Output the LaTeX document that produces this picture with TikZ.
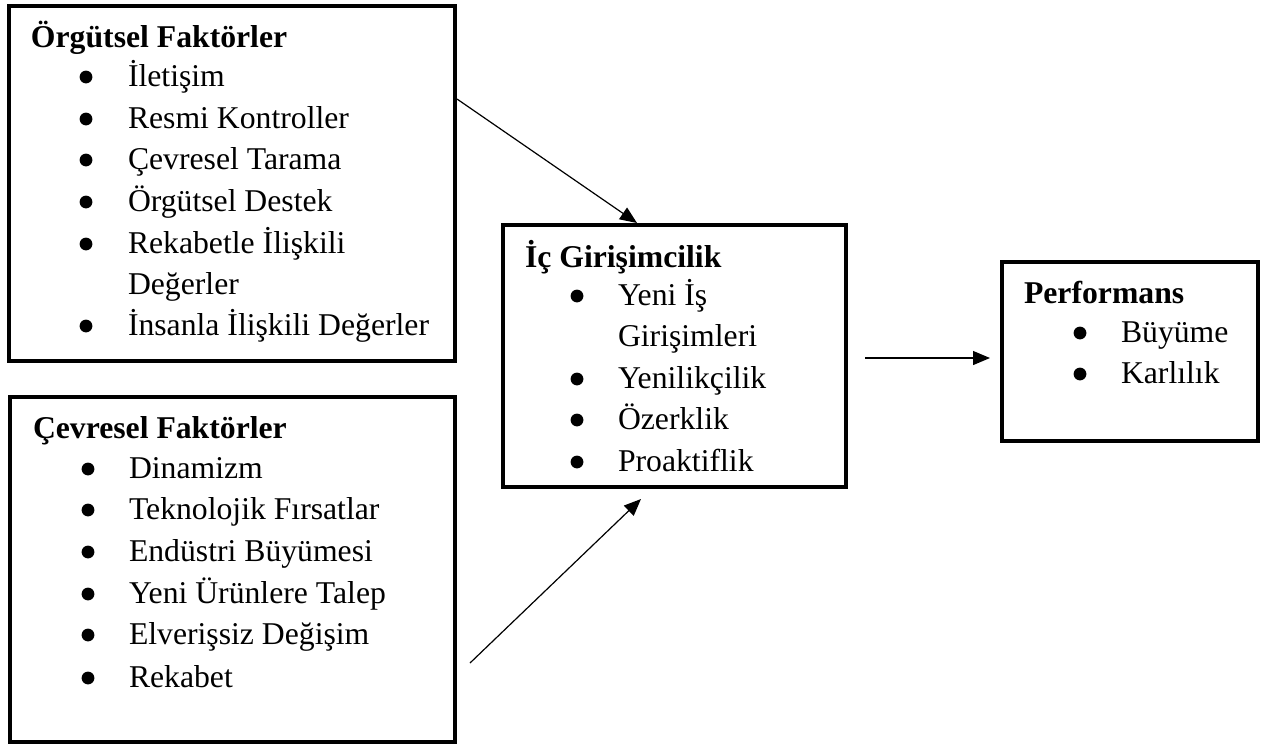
\documentclass[tikz,border=0pt]{standalone}
\usepackage{fontspec}
\setmainfont{Liberation Serif}
\usetikzlibrary{arrows.meta,calc}
\begin{document}
\begin{tikzpicture}[x=0.5pt,y=-0.5pt,
  box/.style={draw,line width=1.8pt,rectangle,inner sep=0pt,outer sep=0pt},
  txt/.style={anchor=base west,inner sep=0pt,outer sep=0pt,font=\fontsize{15.85pt}{19pt}\selectfont},
  ttl/.style={anchor=base west,inner sep=0pt,outer sep=0pt,font=\fontsize{15.85pt}{19pt}\selectfont\bfseries},
  conn/.style={line width=0.6pt,-{Triangle[length=8.5pt,width=7pt]}},
  bul/.style={fill=black}]
\useasboundingbox (0,0) rectangle (1264,746);
% boxes
\node[box,minimum width=223pt,minimum height=177.5pt] (b1) at (232,183.5) {};
\node[box,minimum width=222.5pt,minimum height=172.5pt] (b2) at (232.5,569.5) {};
\node[box,minimum width=171.5pt,minimum height=131pt] (b3) at (674.5,356) {};
\node[box,minimum width=128pt,minimum height=89.5pt] (b4) at (1130,351.5) {};
% box 1
\node[ttl] (t1) at (31,47) {Örgütsel Faktörler};
\node[txt] (t1a) at (128,86) {İletişim};
\node[txt] (t1b) at (128,128) {Resmi Kontroller};
\node[txt] (t1c) at (128,169) {Çevresel Tarama};
\node[txt] (t1d) at (128,211) {Örgütsel Destek};
\node[txt] (t1e) at (128,253) {Rekabetle İlişkili};
\node[txt] (t1f) at (128,294) {Değerler};
\node[txt] (t1g) at (128,335) {İnsanla İlişkili Değerler};
\foreach \y in {86,128,169,211,253,335} \fill[bul] (86,\y-9) circle[radius=3.2pt];
% box 2
\node[ttl] (t2) at (33,438) {Çevresel Faktörler};
\node[txt] (t2a) at (129,478) {Dinamizm};
\node[txt] (t2b) at (129,519) {Teknolojik Fırsatlar};
\node[txt] (t2c) at (129,561) {Endüstri Büyümesi};
\node[txt] (t2d) at (129,603) {Yeni Ürünlere Talep};
\node[txt] (t2e) at (129,644) {Elverişsiz Değişim};
\node[txt] (t2f) at (129,687) {Rekabet};
\foreach \y in {478,519,561,603,644,687} \fill[bul] (88,\y-9) circle[radius=3.2pt];
% box 3
\node[ttl] (t3) at (525,267) {İç Girişimcilik};
\node[txt] (t3a) at (618,305) {Yeni İş};
\node[txt] (t3b) at (618,346) {Girişimleri};
\node[txt] (t3c) at (618,388) {Yenilikçilik};
\node[txt] (t3d) at (618,429) {Özerklik};
\node[txt] (t3e) at (618,471) {Proaktiflik};
\foreach \y in {305,388,429,471} \fill[bul] (577,\y-9) circle[radius=3.2pt];
% box 4
\node[ttl] (t4) at (1024,303) {Performans};
\node[txt] (t4a) at (1121,342) {Büyüme};
\node[txt] (t4b) at (1121,383) {Karlılık};
\foreach \y in {342,383} \fill[bul] (1080,\y-9) circle[radius=3.2pt];
% connectors
\coordinate (a1s) at ($(b1.north east)+(2,93)$);
\coordinate (a1e) at ($(b3.north west)+(134,-2)$);
\draw[conn] (a1s) -- (a1e);
\coordinate (a2s) at ($(b2.north east)+(15,266)$);
\coordinate (a2e) at ($(b3.south west)+(138,12)$);
\draw[conn] (a2s) -- (a2e);
\coordinate (a3s) at ($(b3.east)+(19,2)$);
\coordinate (a3e) at ($(b4.west)+(-12,0)$);
\draw[conn] (a3s) -- (a3e |- a3s);
\end{tikzpicture}
\end{document}
